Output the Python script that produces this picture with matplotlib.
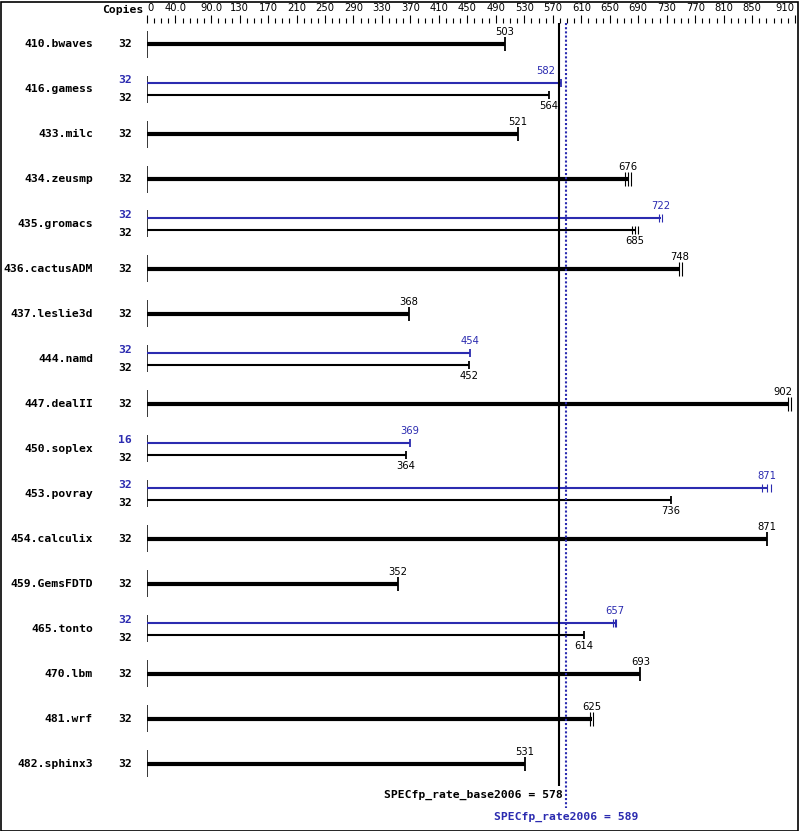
import matplotlib
matplotlib.use('Agg')
import matplotlib.pyplot as plt
import matplotlib.transforms as mtransforms
from matplotlib.patches import Rectangle


# benchmark results (SPECfp_rate2006)
benchmarks = ['410.bwaves', '416.gamess', '433.milc', '434.zeusmp', '435.gromacs',
              '436.cactusADM', '437.leslie3d', '444.namd', '447.dealII', '450.soplex',
              '453.povray', '454.calculix', '459.GemsFDTD', '465.tonto', '470.lbm',
              '481.wrf', '482.sphinx3']
base_copies = [32, 32, 32, 32, 32, 32, 32, 32, 32, 32, 32, 32, 32, 32, 32, 32, 32]
peak_copies = [None, 32, None, None, 32, None, None, 32, None, 16, 32, None, None, 32, None, None, None]
base_ratio = [503, 564, 521, 676, 685, 748, 368, 452, 902, 364, 736, 871, 352, 614, 693, 625, 531]
peak_ratio = [None, 582, None, None, 722, None, None, 454, None, 369, 871, None, None, 657, None, None, None]
# individual run ratios (end ticks)
base_runs = [[503], [564], [521], [672, 676, 680], [681, 685, 689], [747, 751], [368],
             [452], [900, 904], [364], [736], [871], [352], [614], [693], [622, 627], [531]]
peak_runs = [None, [582], None, None, [719, 724], None, None, [454], None, [369],
             [864, 871, 877], None, None, [655, 657, 659], None, None, None]

tick_vals = [0, 40, 90, 130, 170, 210, 250, 290, 330, 370, 410, 450, 490, 530, 570,
             610, 650, 690, 730, 770, 810, 850, 910]
tick_labels = ['0', '40.0', '90.0'] + [str(v) for v in tick_vals[3:]]

base_score = 578
peak_score = 589

BLUE = '#2b2bb0'
W, H = 799, 831

fig = plt.figure(figsize=(W / 100, H / 100), dpi=100)
ax = fig.add_axes([147 / W, 0, (797 - 147) / W, (H - 23) / H])
ax.set_xlim(0, 913)
ax.set_ylim(17.489, -0.4667)
for s in ax.spines.values():
    s.set_visible(False)
ax.set_yticks([])

ax.xaxis.tick_top()
ax.set_xticks(tick_vals)
ax.set_xticklabels(tick_labels, fontsize=7.2)
ax.set_xticks(range(0, 911, 10), minor=True)
ax.tick_params(axis='x', which='major', direction='out', length=5.8, width=0.8, pad=1.2)
ax.tick_params(axis='x', which='minor', direction='out', length=3.4, width=0.8)
ax.get_xticklabels()[-1].set_ha('right')
ax.get_xticklabels()[0].set_ha('left')

mono = dict(family='DejaVu Sans Mono', fontweight='bold', fontsize=8.2)
trans = mtransforms.blended_transform_factory(fig.transFigure, ax.transData)

def value_label(x, y, txt, va, color='black'):
    # keep labels clear of the right border and of the score line
    if x > 890:
        ax.text(x + 4, y, txt, ha='right', va=va, fontsize=7.2, color=color)
    elif base_score - 2 < x < base_score + 15:
        ax.text(base_score - 5, y, txt, ha='right', va=va, fontsize=7.2, color=color)
    else:
        ax.text(x, y, txt, ha='center', va=va, fontsize=7.2, color=color)

def end_ticks(runs, y, h, color):
    lw = 1.3 if len(runs) == 1 else 0.8
    ax.vlines(runs, y - h, y + h, color=color, lw=lw)

off = 6 / 45.0
for i, name in enumerate(benchmarks):
    ax.text(93 / W, i, name, transform=trans, ha='right', va='center', **mono)
    ax.vlines(0, i - 0.3, i + 0.3, color='black', lw=1.1)
    if peak_ratio[i] is None:
        ax.text(125 / W, i, str(base_copies[i]), transform=trans, ha='center', va='center', **mono)
        ax.hlines(i, 0, base_ratio[i], color='black', lw=3.0)
        end_ticks(base_runs[i], i, 0.145, 'black')
        value_label(base_ratio[i], i - 0.16, str(base_ratio[i]), 'bottom')
    else:
        yp, yb = i - off, i + off
        ax.text(125 / W, i - 0.19, str(peak_copies[i]), transform=trans, ha='center',
                va='center', color=BLUE, **mono)
        ax.text(125 / W, i + 0.21, str(base_copies[i]), transform=trans, ha='center',
                va='center', **mono)
        ax.hlines(yp, 0, peak_ratio[i], color=BLUE, lw=1.5)
        end_ticks(peak_runs[i], yp, 0.085, BLUE)
        value_label(peak_ratio[i], yp - 0.15, str(peak_ratio[i]), 'bottom', BLUE)
        ax.hlines(yb, 0, base_ratio[i], color='black', lw=1.5)
        end_ticks(base_runs[i], yb, 0.085, 'black')
        value_label(base_ratio[i], yb + 0.13, str(base_ratio[i]), 'top')

# overall scores
ax.vlines(base_score, -0.4667, 16.49, color='black', lw=1.5)
ax.vlines(peak_score, -0.4667, 16.98, color=BLUE, lw=1.5, linestyles=(0, (1.0, 1.0)))
ax.text(base_score, 16.69, 'SPECfp_rate_base2006 = %d' % base_score, ha='right', va='center',
        transform=ax.transData + mtransforms.ScaledTranslation(4 / 100, 0, fig.dpi_scale_trans),
        **mono)
ax.text(peak_score, 17.18, 'SPECfp_rate2006 = %d' % peak_score, ha='center', va='center',
        color=BLUE, **mono)

fig.text(143 / W, 1 - 10 / H, 'Copies', ha='right', va='center', **mono)
fig.patches.append(Rectangle((0.5 / W, 0.5 / H), (W - 2) / W, (H - 2) / H, transform=fig.transFigure,
                             fill=False, edgecolor='black', lw=1.2))

plt.savefig('out.png', dpi=100)
